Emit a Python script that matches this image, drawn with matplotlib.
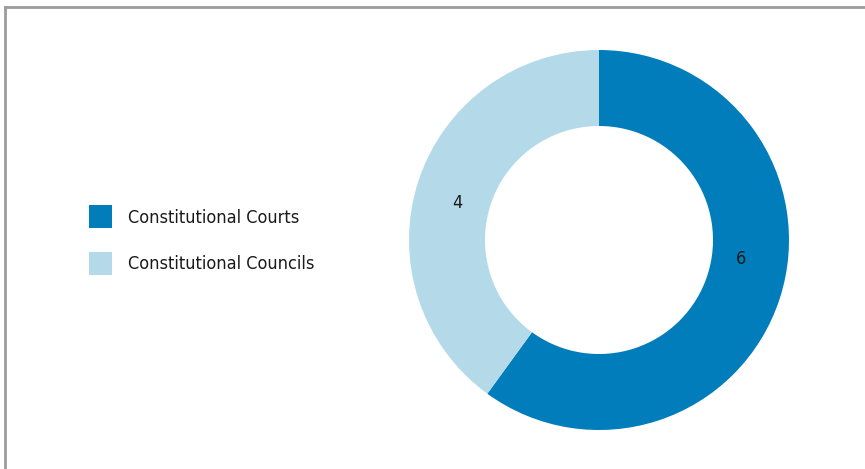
import matplotlib
matplotlib.use("Agg")
import numpy as np
import matplotlib.pyplot as plt
from matplotlib.lines import Line2D
from matplotlib import font_manager

# --- data ---
categories = ["Constitutional Courts", "Constitutional Councils"]
counts = [6, 4]
colors = ["#007dba", "#b4daea"]

# condensed font if available
names = {f.name for f in font_manager.fontManager.ttflist}
family = "Liberation Sans Narrow" if "Liberation Sans Narrow" in names else "DejaVu Sans"
plt.rcParams["font.family"] = [family, "DejaVu Sans"]
plt.rcParams["font.stretch"] = "condensed"

W, H = 865, 469
fig = plt.figure(figsize=(W / 100, H / 100), dpi=100)

# donut axes: centre (599, 240) px, outer radius 190 px
cx, cy, r = 599, 240, 190
ax = fig.add_axes([(cx - r) / W, (H - cy - r) / H, 2 * r / W, 2 * r / H])
wedges, texts = ax.pie(counts, colors=colors, startangle=90, counterclock=False,
                       radius=1.0, wedgeprops=dict(width=0.4, linewidth=0),
                       labels=[str(c) for c in counts], labeldistance=0.76,
                       textprops=dict(fontsize=13, color="#1a1a1a", ha="center", va="bottom",
                                      fontstretch="condensed"))
# nudge value labels a little anticlockwise along the ring
label_offset_deg = 7
for w, t in zip(wedges, texts):
    ang = np.deg2rad((w.theta1 + w.theta2) / 2 + label_offset_deg)
    t.set_position((0.76 * np.cos(ang), 0.76 * np.sin(ang)))
    t.set_va("bottom")
ax.set_xlim(-1, 1)
ax.set_ylim(-1, 1)
ax.set_aspect("equal")
ax.axis("off")

# legend
leg = fig.legend(wedges, categories, loc="center left", bbox_to_anchor=(73 / W, 1 - 240 / H),
                 frameon=False, fontsize=13, handlelength=1.27, handleheight=1.6,
                 handletextpad=0.9, labelspacing=1.3, labelcolor="#1a1a1a")
for t in leg.get_texts():
    t.set_fontstretch("condensed")

# grey frame (top and left)
fig.add_artist(Line2D([5 / W, 1], [1 - 7 / H, 1 - 7 / H], color="#9c9c9c", lw=2, transform=fig.transFigure))
fig.add_artist(Line2D([5 / W, 5 / W], [0, 1 - 7 / H], color="#9c9c9c", lw=2, transform=fig.transFigure))

fig.savefig("out.png", dpi=100)
